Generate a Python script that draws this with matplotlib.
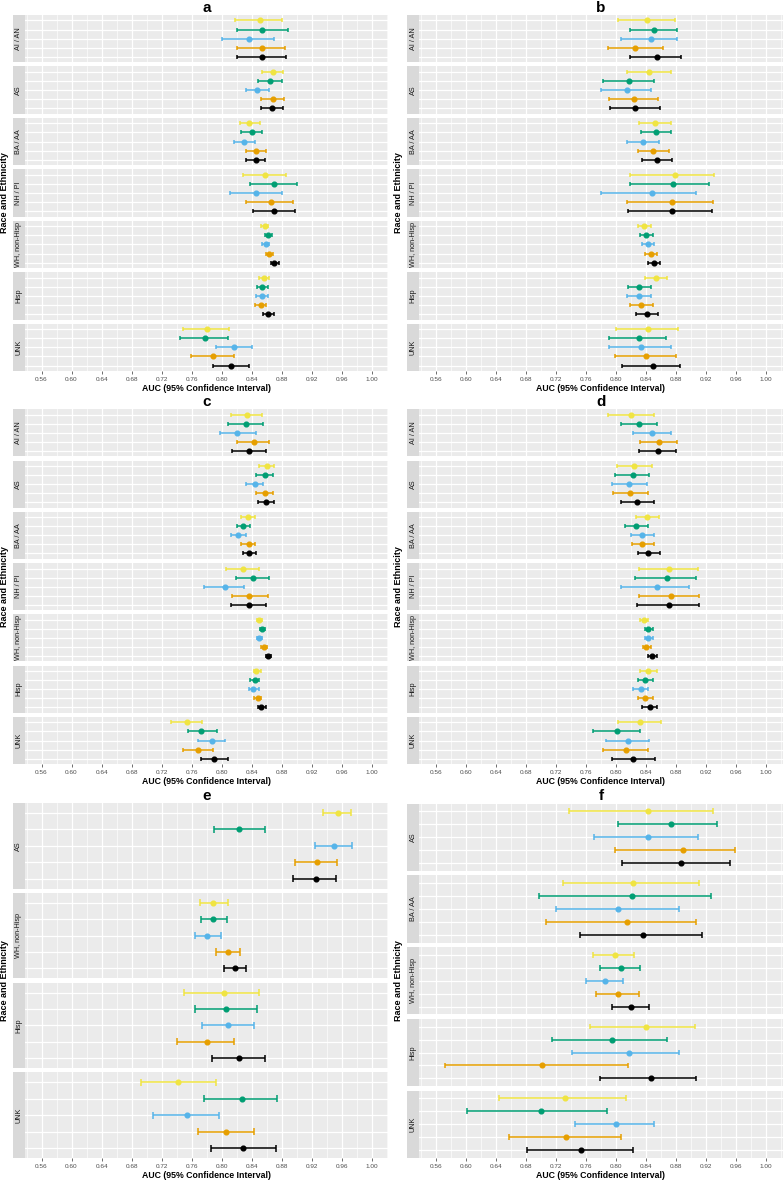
import numpy as np
import matplotlib
matplotlib.use("Agg")
import matplotlib.pyplot as plt

plt.rcParams['font.family'] = ['Liberation Sans', 'DejaVu Sans']

# series order inside each facet, top to bottom
SERIES_COLORS = ["#F0E442", "#009E73", "#56B4E9", "#E69F00", "#000000"]

GROUPS_7 = ["AI / AN", "AS", "BA / AA", "NH / PI", "WH, non-Hisp", "Hisp", "UNK"]
GROUPS_E = ["AS", "WH, non-Hisp", "Hisp", "UNK"]
GROUPS_F = ["AS", "BA / AA", "WH, non-Hisp", "Hisp", "UNK"]

# panel a
LO_A = [[0.818, 0.820, 0.800, 0.820, 0.820], [0.853, 0.848, 0.832, 0.852, 0.852],
        [0.824, 0.826, 0.817, 0.833, 0.833], [0.828, 0.838, 0.811, 0.832, 0.842],
        [0.852, 0.857, 0.854, 0.859, 0.866], [0.849, 0.847, 0.846, 0.844, 0.855],
        [0.748, 0.745, 0.793, 0.759, 0.788]]
AUC_A = [[0.851, 0.854, 0.836, 0.853, 0.854], [0.868, 0.864, 0.847, 0.868, 0.867],
         [0.837, 0.840, 0.830, 0.846, 0.845], [0.857, 0.870, 0.845, 0.866, 0.870],
         [0.857, 0.861, 0.859, 0.863, 0.870], [0.856, 0.854, 0.853, 0.852, 0.861],
         [0.780, 0.778, 0.817, 0.788, 0.813]]
HI_A = [[0.880, 0.888, 0.870, 0.884, 0.885], [0.882, 0.880, 0.863, 0.883, 0.882],
        [0.851, 0.853, 0.844, 0.859, 0.858], [0.885, 0.900, 0.880, 0.895, 0.898],
        [0.862, 0.867, 0.863, 0.868, 0.876], [0.863, 0.862, 0.861, 0.859, 0.869],
        [0.810, 0.808, 0.840, 0.817, 0.836]]

# panel b
LO_B = [[0.803, 0.818, 0.807, 0.789, 0.819], [0.814, 0.783, 0.780, 0.791, 0.792],
        [0.831, 0.833, 0.815, 0.829, 0.835], [0.818, 0.818, 0.780, 0.815, 0.816],
        [0.829, 0.832, 0.835, 0.838, 0.842], [0.838, 0.816, 0.815, 0.818, 0.826],
        [0.800, 0.791, 0.791, 0.798, 0.808]]
AUC_B = [[0.841, 0.850, 0.846, 0.825, 0.854], [0.844, 0.817, 0.814, 0.824, 0.825],
         [0.852, 0.853, 0.836, 0.849, 0.855], [0.878, 0.876, 0.848, 0.875, 0.875],
         [0.837, 0.840, 0.842, 0.846, 0.850], [0.853, 0.831, 0.831, 0.833, 0.841],
         [0.842, 0.830, 0.833, 0.840, 0.849]]
HI_B = [[0.879, 0.881, 0.881, 0.862, 0.886], [0.873, 0.850, 0.846, 0.856, 0.858],
        [0.873, 0.873, 0.857, 0.871, 0.874], [0.930, 0.924, 0.906, 0.929, 0.928],
        [0.846, 0.849, 0.850, 0.854, 0.858], [0.868, 0.847, 0.846, 0.849, 0.856],
        [0.883, 0.867, 0.873, 0.880, 0.885]]

# panel c
LO_C = [[0.812, 0.809, 0.798, 0.821, 0.814], [0.849, 0.846, 0.832, 0.846, 0.848],
        [0.826, 0.820, 0.813, 0.826, 0.829], [0.806, 0.819, 0.776, 0.814, 0.813],
        [0.847, 0.851, 0.847, 0.852, 0.859], [0.843, 0.838, 0.837, 0.843, 0.848],
        [0.732, 0.755, 0.768, 0.748, 0.772]]
AUC_C = [[0.834, 0.832, 0.821, 0.843, 0.837], [0.860, 0.857, 0.844, 0.857, 0.859],
         [0.835, 0.829, 0.822, 0.836, 0.837], [0.828, 0.842, 0.804, 0.837, 0.836],
         [0.850, 0.854, 0.850, 0.856, 0.862], [0.846, 0.844, 0.842, 0.848, 0.852],
         [0.754, 0.773, 0.787, 0.769, 0.790]]
HI_C = [[0.854, 0.855, 0.845, 0.863, 0.859], [0.870, 0.868, 0.855, 0.868, 0.870],
        [0.844, 0.838, 0.832, 0.844, 0.846], [0.850, 0.863, 0.830, 0.861, 0.859],
        [0.853, 0.858, 0.853, 0.860, 0.866], [0.852, 0.849, 0.849, 0.852, 0.859],
        [0.774, 0.794, 0.804, 0.788, 0.809]]

# panel d
LO_D = [[0.789, 0.807, 0.822, 0.832, 0.831], [0.801, 0.798, 0.795, 0.796, 0.806],
        [0.826, 0.812, 0.820, 0.821, 0.829], [0.830, 0.825, 0.807, 0.831, 0.828],
        [0.832, 0.838, 0.838, 0.836, 0.843], [0.832, 0.829, 0.823, 0.829, 0.834],
        [0.803, 0.769, 0.786, 0.783, 0.794]]
AUC_D = [[0.820, 0.831, 0.848, 0.857, 0.856], [0.824, 0.822, 0.817, 0.819, 0.828],
         [0.841, 0.827, 0.835, 0.835, 0.843], [0.871, 0.868, 0.854, 0.873, 0.871],
         [0.837, 0.842, 0.842, 0.840, 0.848], [0.843, 0.839, 0.833, 0.839, 0.845],
         [0.832, 0.801, 0.816, 0.813, 0.823]]
HI_D = [[0.850, 0.854, 0.873, 0.881, 0.880], [0.848, 0.844, 0.841, 0.842, 0.850],
        [0.857, 0.842, 0.850, 0.850, 0.858], [0.909, 0.907, 0.897, 0.911, 0.911],
        [0.843, 0.849, 0.849, 0.846, 0.854], [0.854, 0.849, 0.843, 0.849, 0.855],
        [0.860, 0.832, 0.844, 0.842, 0.852]]

# panel e
LO_E = [[0.935, 0.790, 0.924, 0.897, 0.895], [0.771, 0.772, 0.764, 0.793, 0.803],
        [0.750, 0.764, 0.774, 0.741, 0.787], [0.692, 0.776, 0.708, 0.768, 0.786]]
AUC_E = [[0.955, 0.823, 0.950, 0.927, 0.926], [0.789, 0.789, 0.781, 0.808, 0.818],
         [0.803, 0.806, 0.809, 0.780, 0.823], [0.742, 0.827, 0.754, 0.806, 0.829]]
HI_E = [[0.972, 0.857, 0.973, 0.954, 0.952], [0.808, 0.807, 0.799, 0.824, 0.833],
        [0.850, 0.847, 0.843, 0.817, 0.857], [0.792, 0.873, 0.797, 0.843, 0.872]]

# panel f
LO_F = [[0.737, 0.803, 0.771, 0.799, 0.808], [0.729, 0.698, 0.720, 0.707, 0.752],
        [0.769, 0.779, 0.760, 0.773, 0.795], [0.766, 0.715, 0.741, 0.572, 0.779],
        [0.644, 0.602, 0.746, 0.658, 0.682]]
AUC_F = [[0.842, 0.873, 0.843, 0.889, 0.887], [0.822, 0.821, 0.802, 0.815, 0.836],
         [0.799, 0.807, 0.785, 0.802, 0.820], [0.840, 0.794, 0.817, 0.701, 0.846],
         [0.732, 0.700, 0.800, 0.733, 0.754]]
HI_F = [[0.929, 0.935, 0.909, 0.958, 0.952], [0.910, 0.926, 0.884, 0.906, 0.914],
        [0.824, 0.832, 0.809, 0.830, 0.844], [0.905, 0.868, 0.884, 0.816, 0.906],
        [0.813, 0.788, 0.850, 0.807, 0.823]]

W, H = 783, 1182
XMIN, XMAX = 0.538, 1.022
MAJOR = np.round(np.arange(0.56, 1.0001, 0.04), 2)
MINOR = np.round(np.arange(0.54, 1.0201, 0.04), 2)


def px_axes(fig, x0, y0, x1, y1):
    return fig.add_axes([x0 / W, 1 - y1 / H, (x1 - x0) / W, (y1 - y0) / H])


def draw_panel(fig, left, top, bottom, title, groups, lo, auc, hi):
    strip_x0, strip_x1 = left, left + 12.3
    plot_x1 = left + 375.7
    n = len(groups)
    gap = 4.3
    fh = (bottom - top - gap * (n - 1)) / n
    for g in range(n):
        fy0 = top + g * (fh + gap)
        fy1 = fy0 + fh
        ax = px_axes(fig, strip_x1, fy0, plot_x1, fy1)
        ax.set_facecolor("#EBEBEB")
        ax.set_xlim(XMIN, XMAX)
        ax.set_ylim(0.4, 5.6)
        ax.set_xticks(MAJOR)
        ax.set_xticks(MINOR, minor=True)
        ax.set_yticks([1, 2, 3, 4, 5])
        ax.grid(which="major", color="white", lw=0.9)
        ax.grid(which="minor", axis="x", color="white", lw=0.45)
        ax.set_axisbelow(True)
        for s in ax.spines.values():
            s.set_visible(False)
        ax.tick_params(axis="y", left=False, labelleft=False)
        ax.tick_params(axis="x", which="minor", bottom=False)
        if g == n - 1:
            ax.set_xticklabels([f"{v:.2f}" for v in MAJOR])
            ax.tick_params(axis="x", which="major", length=2, width=0.5,
                           color="#333333", labelsize=4.6, labelcolor="#4D4D4D", pad=2)
            ax.set_xlabel("AUC (95% Confidence Interval)", fontsize=6.3, fontweight="bold",
                          labelpad=1.5)
        else:
            ax.tick_params(axis="x", bottom=False, labelbottom=False)
        for i in range(5):
            y = 5 - i
            c = SERIES_COLORS[i]
            ax.hlines(y, lo[g][i], hi[g][i], color=c, lw=1.1, zorder=3)
            ax.vlines([lo[g][i], hi[g][i]], y - 0.22, y + 0.22, color=c, lw=1.1, zorder=3)
            ax.plot(auc[g][i], y, "o", color=c, ms=3.4, zorder=4)
        sx = px_axes(fig, strip_x0, fy0, strip_x1, fy1)
        sx.set_facecolor("#D9D9D9")
        sx.set_xticks([])
        sx.set_yticks([])
        for s in sx.spines.values():
            s.set_visible(False)
        sx.text(0.5, 0.5, groups[g], rotation=90, ha="center", va="center",
                fontsize=5.2, color="#1A1A1A", transform=sx.transAxes)
    cx = (strip_x1 + plot_x1) / 2
    fig.text(cx / W, 1 - (top - 7.5) / H, title, ha="center", va="center",
             fontsize=11, fontweight="bold")
    fig.text((left - 8.5) / W, 1 - ((top + bottom) / 2) / H, "Race and Ethnicity",
             rotation=90, ha="center", va="center", fontsize=6.5, fontweight="bold")


def main():
    fig = plt.figure(figsize=(W / 100, H / 100), dpi=100)
    draw_panel(fig, 12.7, 15, 371, "a", GROUPS_7, LO_A, AUC_A, HI_A)
    draw_panel(fig, 407, 15, 371, "b", GROUPS_7, LO_B, AUC_B, HI_B)
    draw_panel(fig, 12.7, 409.3, 764, "c", GROUPS_7, LO_C, AUC_C, HI_C)
    draw_panel(fig, 407, 409.3, 764, "d", GROUPS_7, LO_D, AUC_D, HI_D)
    draw_panel(fig, 12.7, 803, 1158, "e", GROUPS_E, LO_E, AUC_E, HI_E)
    draw_panel(fig, 407, 803.5, 1158, "f", GROUPS_F, LO_F, AUC_F, HI_F)
    fig.savefig("out.png", dpi=100, facecolor="white")


if __name__ == "__main__":
    main()
